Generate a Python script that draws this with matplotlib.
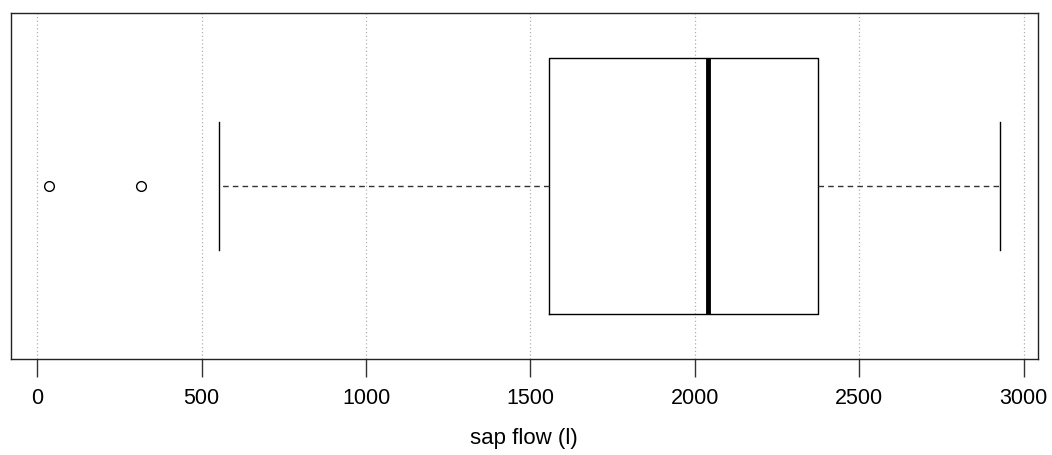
import matplotlib
matplotlib.use("Agg")
import matplotlib.pyplot as plt

plt.rcParams["font.family"] = ["Liberation Sans", "DejaVu Sans"]

# five-number summary of sap flow (l)
whisker_low = 552
q1 = 1557
median = 2041
q3 = 2376
whisker_high = 2928
outliers = [35, 315]

ticks = [0, 500, 1000, 1500, 2000, 2500, 3000]

fig = plt.figure(figsize=(10.52, 4.56), dpi=100)
ax = fig.add_axes([0.0102, 0.2105, 0.9765, 0.7588])

stats = [{
    "whislo": whisker_low, "q1": q1, "med": median, "q3": q3,
    "whishi": whisker_high, "fliers": outliers,
}]
ax.bxp(stats, positions=[1], vert=False, widths=0.8, showcaps=True,
       boxprops=dict(color="black", linewidth=1),
       medianprops=dict(color="black", linewidth=3.5, solid_capstyle="butt"),
       whiskerprops=dict(color="#333333", linewidth=1, linestyle=(0, (4, 3))),
       capprops=dict(color="black", linewidth=1),
       capwidths=0.4,
       flierprops=dict(marker="o", markerfacecolor="white",
                       markeredgecolor="black", markersize=7, markeredgewidth=1))

for t in ticks:
    ax.axvline(t, color="#b0b0b0", linestyle=(0, (1, 2)), linewidth=0.9, zorder=0)

xmin, xmax = min(outliers), whisker_high
pad = (xmax - xmin) * 0.04
ax.set_xlim(xmin - pad, xmax + pad)
ax.set_ylim(0.46, 1.54)

ax.set_yticks([])
ax.set_xticks(ticks)
ax.set_xticklabels([str(t) for t in ticks])
ax.tick_params(axis="x", length=13, width=1, pad=7, labelsize=15.5, color="#333333")
for s in ax.spines.values():
    s.set_linewidth(1)
    s.set_color("#222222")

ax.set_xlabel("sap flow (l)", fontsize=16, labelpad=14)

fig.savefig("out.png", dpi=100)
